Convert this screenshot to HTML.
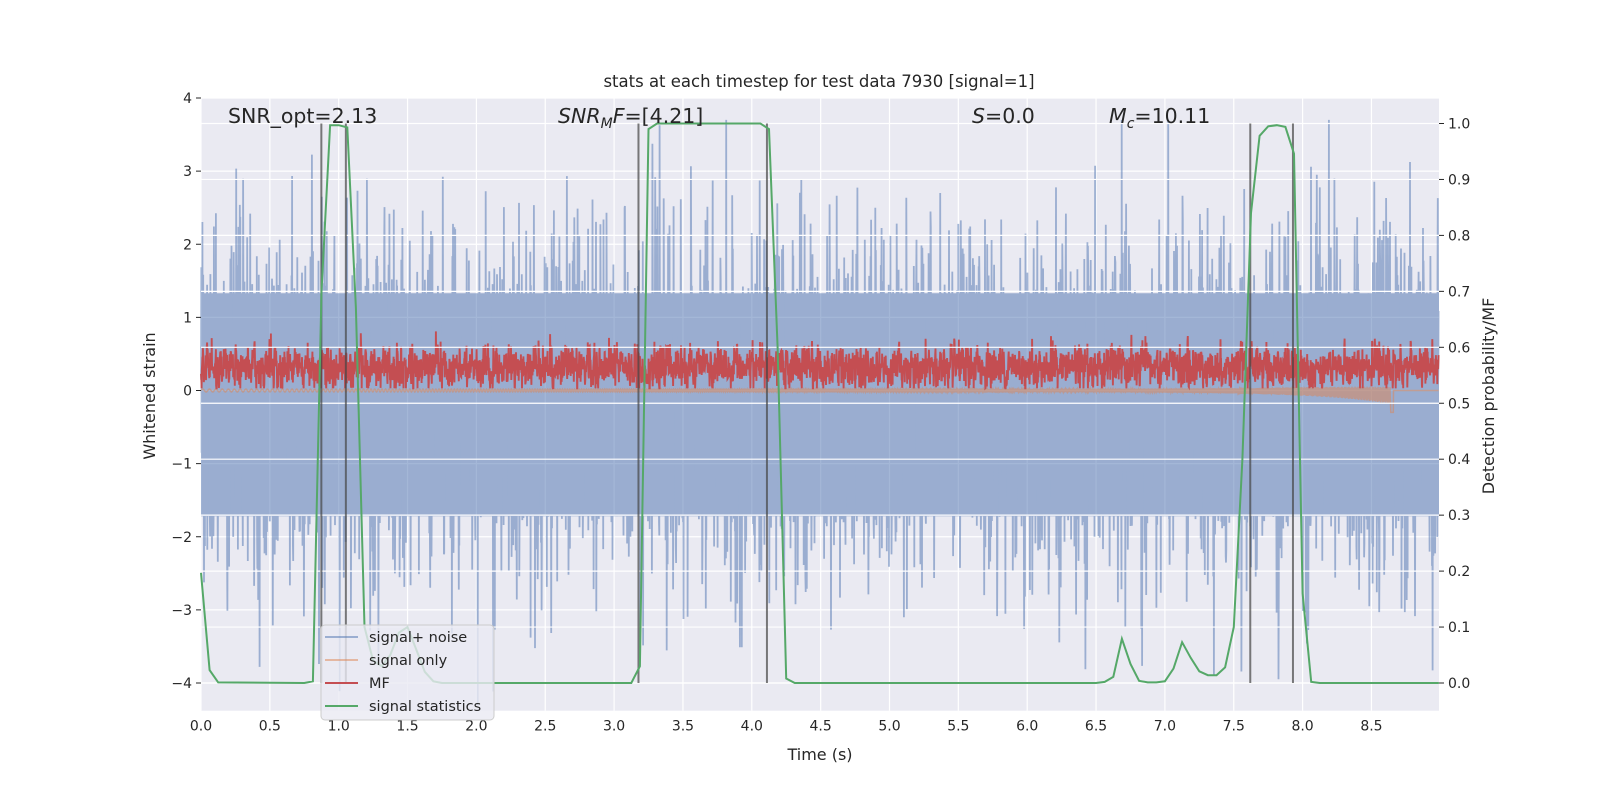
<!DOCTYPE html>
<html><head><meta charset="utf-8">
<style>
html,body{margin:0;padding:0;background:#fff;}
svg{display:block;font-family:"DejaVu Sans","Liberation Sans",sans-serif;}
</style></head>
<body>
<svg id="chart" width="1600" height="800" viewBox="0 0 1600 800">
<rect x="0" y="0" width="1600" height="800" fill="#fff"/>
<rect x="201" y="98" width="1238" height="612.7" fill="#eaeaf2"/>
<g id="grid"></g>
<g id="noise" opacity="0.5"></g>
<g id="sig"></g>
<g id="mf"></g>
<g id="grid2"></g>
<g id="vlines"></g>
<g id="stat"></g>
<g id="ticks"></g>
<text x="819" y="87" font-size="16.5" text-anchor="middle" fill="#262626">stats at each timestep for test data 7930 [signal=1]</text>
<text transform="translate(155,396) rotate(-90)" font-size="16" text-anchor="middle" fill="#262626">Whitened strain</text>
<text transform="translate(1494,396) rotate(-90)" font-size="16" text-anchor="middle" fill="#262626">Detection probability/MF</text>
<text x="820" y="760" font-size="16" text-anchor="middle" fill="#262626">Time (s)</text>
<text x="228" y="123" font-size="20.5" fill="#262626">SNR_opt=2.13</text>
<text x="558" y="123" font-size="20.5" fill="#262626"><tspan font-style="italic">SNR</tspan><tspan font-style="italic" font-size="14" dy="5">M</tspan><tspan font-style="italic" dy="-5">F</tspan>=[4.21]</text>
<text x="972" y="123" font-size="20.5" fill="#262626"><tspan font-style="italic">S</tspan>=0.0</text>
<text x="1109" y="123" font-size="20.5" fill="#262626"><tspan font-style="italic">M</tspan><tspan font-style="italic" font-size="14" dy="5">c</tspan><tspan dy="-5">=10.11</tspan></text>
<g>
<rect x="321" y="625" width="173" height="95" rx="4" fill="#eaeaf2" fill-opacity="0.8" stroke="#cccccc"/>
<line x1="325" y1="637" x2="358" y2="637" stroke="#4c72b0" stroke-opacity="0.5" stroke-width="2"/>
<text x="369" y="642" font-size="14.5" fill="#262626">signal+ noise</text>
<line x1="325" y1="660" x2="358" y2="660" stroke="#dd8452" stroke-opacity="0.5" stroke-width="2"/>
<text x="369" y="665" font-size="14.5" fill="#262626">signal only</text>
<line x1="325" y1="683" x2="358" y2="683" stroke="#c44e52" stroke-width="2"/>
<text x="369" y="688" font-size="14.5" fill="#262626">MF</text>
<line x1="325" y1="706" x2="358" y2="706" stroke="#55a868" stroke-width="2"/>
<text x="369" y="711" font-size="14.5" fill="#262626">signal statistics</text>
</g>
</svg>
<script>
const xTicks=[0,0.5,1,1.5,2,2.5,3,3.5,4,4.5,5,5.5,6,6.5,7,7.5,8,8.5];
const yTicks=[-4,-3,-2,-1,0,1,2,3,4];
const y2Ticks=[0,0.1,0.2,0.3,0.4,0.5,0.6,0.7,0.8,0.9,1.0];
const noiseBand=[-1.72,1.33];
const statTimes=[0,0.0625,0.125,0.75,0.8125,0.875,0.9375,1.0,1.0625,1.125,1.1875,1.25,1.3125,1.375,1.4375,1.5,1.5625,1.625,1.6875,1.75,3.125,3.1875,3.25,3.3125,4.0625,4.125,4.1875,4.25,4.3125,6.5,6.5625,6.625,6.6875,6.75,6.8125,6.875,6.9375,7.0,7.0625,7.125,7.1875,7.25,7.3125,7.375,7.4375,7.5,7.5625,7.625,7.6875,7.75,7.8125,7.875,7.9375,8.0,8.0625,8.125,8.99];
const statValues=[0.197,0.023,0.001,0.0,0.003,0.70,0.997,0.997,0.993,0.67,0.10,0.04,0.03,0.05,0.09,0.10,0.06,0.02,0.003,0.0,0.0,0.03,0.99,1.0,1.0,0.99,0.6,0.008,0.0,0.0,0.002,0.011,0.079,0.034,0.004,0.001,0.001,0.003,0.026,0.073,0.045,0.021,0.014,0.014,0.028,0.10,0.40,0.84,0.978,0.995,0.997,0.994,0.946,0.16,0.002,0.0,0.0];
const detectLines=[0.874,1.052,3.177,4.11,7.62,7.93];
const NS='http://www.w3.org/2000/svg';
const L=201,R=1439,T=98,B=710.7;
const X=t=>L+(t-0)*137.7;
const Y=v=>683-(v+4)*73.125;
const Y2=p=>683-p*559.5;
function mk(tag,attrs,parent){const e=document.createElementNS(NS,tag);for(const k in attrs)e.setAttribute(k,attrs[k]);parent.appendChild(e);return e;}
const grid=document.getElementById('grid'),grid2=document.getElementById('grid2'),ticks=document.getElementById('ticks');
xTicks.forEach(t=>{
 const l=mk('line',{x1:X(t),x2:X(t),y1:T,y2:B,stroke:'#fff','stroke-width':1.2},grid);
 
 
 const tx=mk('text',{x:X(t),y:B+20,'font-size':14,'text-anchor':'middle',fill:'#262626'},ticks);
 tx.textContent=t.toFixed(1);
 
 
});
yTicks.forEach(v=>{
 const l=mk('line',{x1:L,x2:R,y1:Y(v),y2:Y(v),stroke:'#fff','stroke-width':1.2},grid);
 
 
 mk('line',{x1:L-5,x2:L,y1:Y(v),y2:Y(v),stroke:'#262626','stroke-width':1},ticks);
 const tx=mk('text',{x:L-9,y:Y(v)+5,'font-size':14,'text-anchor':'end',fill:'#262626'},ticks);
 tx.textContent=v<0?'\u2212'+(-v):String(v);
 
 
});
y2Ticks.forEach(p=>{
 const l=mk('line',{x1:L,x2:R,y1:Y2(p),y2:Y2(p),stroke:'#fff','stroke-width':1.2},grid2);
 
 
 mk('line',{x1:R,x2:R+5,y1:Y2(p),y2:Y2(p),stroke:'#262626','stroke-width':1},ticks);
 const tx=mk('text',{x:R+9,y:Y2(p)+5,'font-size':14,'text-anchor':'start',fill:'#262626'},ticks);
 tx.textContent=p.toFixed(1);
 
 
});
const noiseG=document.getElementById('noise');
const band=mk('rect',{x:L,width:R-L,y:Y(noiseBand[1]),height:Y(noiseBand[0])-Y(noiseBand[1]),fill:'#4c72b0'},noiseG);


// noise texture (seeded, deterministic)
let seed=7930;function rnd(){seed=(seed*1103515245+12345)%2147483648;return seed/2147483648;}
function gauss(){let u=rnd()||1e-9,v=rnd();return Math.sqrt(-2*Math.log(u))*Math.cos(2*Math.PI*v);}
const N=4500,tMax=8.99;
let pn=[],pm=[],ps=[];let mfv=0.3;
for(let i=0;i<N;i++){
 const t=i/N*tMax;
 const n=gauss()*1.2-0.2;
 pn.push(X(t).toFixed(1)+','+Y(Math.max(-4.3,Math.min(3.7,n))).toFixed(1));
 mfv=0.3*mfv+0.7*(0.32+gauss()*0.19);
 pm.push(X(t).toFixed(1)+','+Y(Math.max(0.03,Math.min(0.95,mfv))).toFixed(1));
 let s=0;if(t<8.66){const a=0.02+0.1*Math.pow(t/8.66,12);s=a*Math.sin(2*Math.PI*t*(20+60*t/8.66))-0.6*a*Math.pow(t/8.66,12);}
 if(t>8.64&&t<8.66)s=-0.3;
 ps.push(X(t).toFixed(1)+','+Y(s).toFixed(1));
}
const np=mk('polyline',{points:pn.join(' '),fill:'none',stroke:'#4c72b0','stroke-width':1.8},noiseG);


const sp=mk('polyline',{points:ps.join(' '),fill:'none',stroke:'#dd8452','stroke-opacity':0.5,'stroke-width':1.5},document.getElementById('sig'));


const mp=mk('polyline',{points:pm.join(' '),fill:'none',stroke:'#c44e52','stroke-width':1.9},document.getElementById('mf'));


detectLines.forEach(t=>{
 const l=mk('line',{x1:X(t),x2:X(t),y1:Y2(1.0),y2:Y2(0),stroke:'#444','stroke-opacity':0.7,'stroke-width':2},document.getElementById('vlines'));
 
 
});
const st=statTimes.map((t,i)=>X(t).toFixed(1)+','+Y2(statValues[i]).toFixed(1)).join(' ');
const sl=mk('polyline',{points:st,fill:'none',stroke:'#55a868','stroke-width':2},document.getElementById('stat'));


</script>
</body></html>
